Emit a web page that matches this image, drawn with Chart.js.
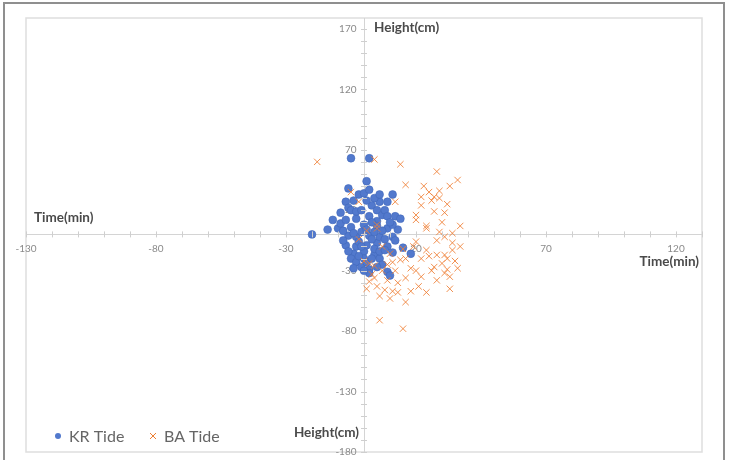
<!DOCTYPE html>
<html>
<head>
<meta charset="utf-8">
<script src="https://cdn.jsdelivr.net/npm/chart.js@4.4.1/dist/chart.umd.min.js"></script>
<style>
  html, body { margin: 0; padding: 0; background: #fff; }
  #wrap { width: 732px; height: 460px; position: relative; }
</style>
</head>
<body>
<div id="wrap"><canvas id="tideChart" width="732" height="460"></canvas></div>
<script>
// axis setup
const xMin = -130, xMax = 130;
const yMin = -180, yMax = 179;
const xTickLabels = [-130, -80, -30, 20, 70, 120];
const yTickLabels = [170, 120, 70, 20, -30, -80, -130, -180];

// KR Tide: time difference (min), height difference (cm)
const krTime = [-20, -14, -12, -10, -9, -7, -6, -6, -7, -5, -5, -5, -6, -7, -4, -5, -3, -3, -3, -3,
  -3, -2, -1, 0, 0, 0, 1, 1, 2, 2, 2, 2, 2, 2, 3, 4, 5, 5, 5, 5,
  6, 6, 6, 7, 8, 9, 9, 9, 9, 9, 10, 11, 11, 12, 13, 14, 15, 18,
  -1, 1, 3, -4, 7, 4, -2, 0, 3, 6, -8, 1, -1, 7, 4, 11, -4, 12,
  -8, -6, -2, 0, 3, 5, 8, 10, -4, 1, -9, 8, -1, 4, 11, 6];
const krHeight = [0, 4, 12, 5, 9, 27, 38, 22, 12, 63, 20, 6, -1, -9, -16, -20, -23, 13, 19, -2,
  -10, 33, -27, 34, 8, -14, 44, -9, 63, 37, 15, -1, -29, -32, 24, -17, 20, 11, 7, -7,
  27, -2, -20, 16, 20, 27, 15, 5, -10, -31, -34, 33, -2, 15, 4, 13, -11, -16,
  2, 4, -4, 1, 3, -12, -6, -20, 10, -14, 3, -23, 20, -25, 30, 8, 28, -5,
  -5, -14, -18, -30, -20, -27, -13, 10, -28, 28, 18, -4, -10, 2, -15, 33];

// BA Tide
const baTime = [-18, 4, 14, 28, 36, 16, 33, 25, 27, 29, 22, 22, 27, 31, 20, 20, 24, 24, 37, 29,
  31, 28, 34, 20, 24, 34, 28, 31, 25, 22, 16, 14, 11, 27, 32, 31, 33, 22, 16, 2,
  5, 8, 11, 18, 33, 10, 16, 6, 6, 15, 5, 5, 2, 4, 0, -2, -5, 9, 12, 10,
  30, 26, 32, 35, 13, 18, 21, 3, 7, 1, -2, 29, 26, 12, 19, 34,
  1, 4, 7, 9, 13, 24, 28, 36, 37, 20, 15, 30, 32, 23];
const baHeight = [60, 62, 58, 52, 45, 41, 40, 35, 31, 30, 31, 24, 19, 18, 16, 12, 7, 5, 7, 2,
  -2, -5, -7, -6, -13, -13, -17, -17, -18, -20, -20, -21, -23, -27, -29, -32, -35, -35, -36, -39,
  -43, -46, -47, -47, -45, -53, -56, -51, -71, -78, 8, 5, -24, -26, -22, 27, 35, -25, -30, -16,
  -24, -30, -20, -22, -40, -28, -43, -33, -10, 3, -4, 36, 28, 27, -10, 1,
  -45, -36, -30, -38, -48, -48, -38, -28, -10, -30, -12, 10, 25, 40];

const seriesNames = ['KR Tide', 'BA Tide'];
const seriesColors = ['#5279cd', '#ee7d31'];

const toPoints = (xs, ys) => xs.map((x, i) => ({ x: x, y: ys[i] }));

Chart.defaults.font.family = 'Lato, "Open Sans", sans-serif';

// frame, cross tick marks, axis titles and legend (Excel style)
const excelDecor = {
  id: 'excelDecor',
  beforeDraw(chart) {
    const ctx = chart.ctx;
    const a = chart.chartArea;
    ctx.save();
    ctx.fillStyle = '#fff';
    ctx.fillRect(0, 0, chart.width, chart.height);
    ctx.strokeStyle = '#8f8f8f';
    ctx.lineWidth = 2;
    ctx.strokeRect(4, 3, 720, 480);
    ctx.strokeStyle = '#dedede';
    ctx.lineWidth = 1.5;
    ctx.strokeRect(a.left, a.top, a.right - a.left, a.bottom - a.top);
    ctx.restore();
  },
  afterDatasetsDraw(chart) {
    const ctx = chart.ctx;
    const xs = chart.scales.x, ys = chart.scales.y;
    const x0 = xs.getPixelForValue(0), y0 = ys.getPixelForValue(0);
    ctx.save();
    ctx.strokeStyle = '#cfcfcf';
    ctx.lineWidth = 1;
    ctx.beginPath();
    xs.ticks.forEach(t => {
      const px = Math.round(xs.getPixelForValue(t.value)) + 0.5;
      ctx.moveTo(px, y0 - 3); ctx.lineTo(px, y0 + 3);
    });
    ys.ticks.forEach(t => {
      const py = Math.round(ys.getPixelForValue(t.value)) + 0.5;
      ctx.moveTo(x0 - 3, py); ctx.lineTo(x0 + 3, py);
    });
    ctx.stroke();

    // axis titles
    ctx.fillStyle = '#4a4a4a';
    ctx.font = 'bold 13.5px Lato, sans-serif';
    ctx.textBaseline = 'middle';
    ctx.textAlign = 'left';
    ctx.fillText('Time(min)', 34, 218);
    ctx.fillText('Height(cm)', 374, 28);
    ctx.textAlign = 'right';
    ctx.fillText('Time(min)', 699, 262);
    ctx.fillText('Height(cm)', 359, 433);

    // legend
    const ly = 436;
    ctx.font = '16px Lato, sans-serif';
    ctx.fillStyle = '#666';
    ctx.textAlign = 'left';
    ctx.fillText(seriesNames[0], 69, ly + 1);
    ctx.fillText(seriesNames[1], 164, ly + 1);
    ctx.fillStyle = seriesColors[0];
    ctx.beginPath();
    ctx.arc(58, ly, 3, 0, Math.PI * 2);
    ctx.fill();
    ctx.strokeStyle = seriesColors[1];
    ctx.lineWidth = 1;
    ctx.beginPath();
    ctx.moveTo(150, ly - 3); ctx.lineTo(156, ly + 3);
    ctx.moveTo(156, ly - 3); ctx.lineTo(150, ly + 3);
    ctx.stroke();
    ctx.restore();
  }
};

new Chart(document.getElementById('tideChart'), {
  type: 'scatter',
  data: {
    datasets: [
      {
        label: seriesNames[0],
        data: toPoints(krTime, krHeight),
        order: 1,
        pointStyle: 'circle',
        pointRadius: 3.9,
        backgroundColor: seriesColors[0],
        borderColor: '#4168bb',
        borderWidth: 0.6
      },
      {
        label: seriesNames[1],
        data: toPoints(baTime, baHeight),
        order: 0,
        pointStyle: 'crossRot',
        pointRadius: 4.5,
        backgroundColor: seriesColors[1],
        borderColor: 'rgba(238,125,49,0.85)',
        borderWidth: 1
      }
    ]
  },
  options: {
    responsive: false,
    animation: false,
    layout: { padding: { left: 26, top: 18, right: 30, bottom: 8 } },
    plugins: {
      legend: { display: false },
      tooltip: { enabled: false }
    },
    scales: {
      x: {
        type: 'linear',
        min: xMin,
        max: xMax,
        position: { y: 0 },
        grid: { display: false, drawTicks: false },
        border: { display: true, color: '#d4d4d4', width: 1 },
        afterFit: s => { s.paddingLeft = 0; s.paddingRight = 0; },
        ticks: {
          stepSize: 10,
          autoSkip: false,
          includeBounds: false,
          maxRotation: 0,
          padding: 8,
          color: '#8a8a8a',
          font: { size: 10 },
          callback: v => xTickLabels.includes(v) ? String(v) : ''
        }
      },
      y: {
        type: 'linear',
        min: yMin,
        max: yMax,
        position: { x: 0 },
        grid: { display: false, drawTicks: false },
        border: { display: true, color: '#d4d4d4', width: 1 },
        afterFit: s => { s.paddingTop = 0; s.paddingBottom = 0; },
        ticks: {
          stepSize: 10,
          autoSkip: false,
          includeBounds: false,
          color: '#8a8a8a',
          font: { size: 10 },
          callback: v => yTickLabels.includes(v) ? v + '\u2003' : ''
        }
      }
    }
  },
  plugins: [excelDecor]
});
</script>
</body>
</html>
